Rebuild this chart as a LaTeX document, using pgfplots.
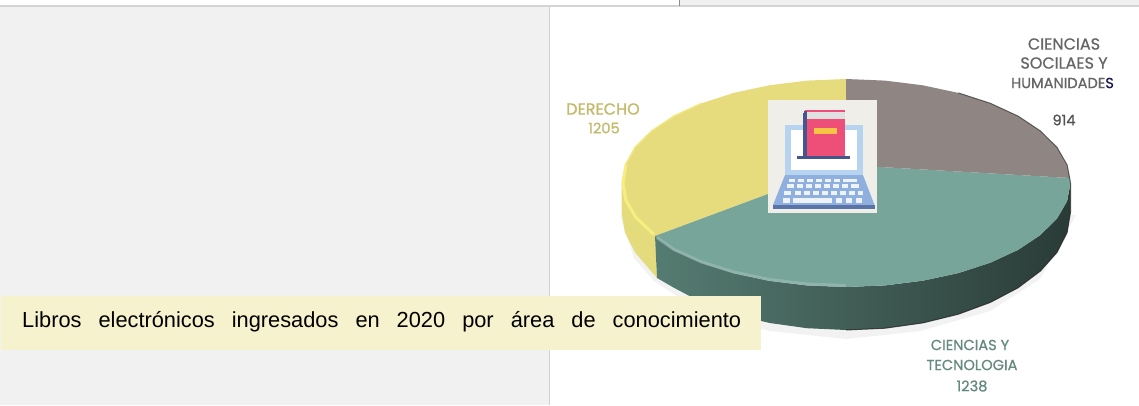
\documentclass[border=0pt]{standalone}
\usepackage{fontspec}
\setmainfont{Liberation Sans}
\newfontfamily\lab[FakeBold=0.8]{Poppins}
\usepackage{pgfplots}
\pgfplotsset{compat=1.18}
\definecolor{pyel}{HTML}{E6DC7D}
\definecolor{pyelrim}{HTML}{F6EE80}
\definecolor{pyelside}{HTML}{E4DB7C}
\definecolor{pgry}{HTML}{8F8583}
\definecolor{pgrn}{HTML}{78A59A}
\definecolor{sideA}{HTML}{557C72}
\definecolor{sideB}{HTML}{3F5A53}
\definecolor{sideC}{HTML}{2A3B37}
\definecolor{boxc}{HTML}{F6F2CD}
\definecolor{icbg}{HTML}{EFEEE8}
\definecolor{icfr}{HTML}{B6D4F0}
\definecolor{icrd}{HTML}{ED4F78}
\definecolor{icnv}{HTML}{46558C}
\definecolor{icor}{HTML}{F8C445}
\definecolor{ickb}{HTML}{8FB0DE}
\definecolor{icbs}{HTML}{5B74A8}
\definecolor{ickey}{HTML}{EEF3FA}
\newcommand{\R}[5]{\addplot[fill=#5,draw=none] coordinates {(#1,#2) (#3,#2) (#3,#4) (#1,#4)} --cycle;}
\begin{document}
\begin{tikzpicture}
\begin{axis}[scale only axis,width=1139pt,height=405pt,xmin=0,xmax=1139,ymin=0,ymax=405,y dir=reverse,hide axis,clip=true]
% panels
\R{0}{0}{1139}{405}{white}
\R{0}{7}{549}{405}{black!5.5}
\R{549}{7}{550}{405}{black!18}
\R{680}{0}{1139}{5}{black!6}
\R{0}{5}{1139}{7}{black!17}
\R{678.5}{0}{680}{6}{black!45}
% halo
\addplot[fill=black!5,draw=none] coordinates {(620,215) (634,258) (654,281) (700,311) (770,331) (846,339) (920,331) (990,311) (1040,279) (1076,215)} --cycle;
% sides
\addplot[fill=pyelside,draw=none] coordinates {(621.5,183) (624.9,201.1) (635,218.6) (655,236) (657,278) (635,252.4) (624.9,232.5) (621.5,212)} --cycle;
\addplot[left color=sideA,middle color=sideB,right color=sideC,draw=none] coordinates {(655,236) (674,249.9) (701.7,262.7) (733.7,273.1) (769.2,280.7) (807,285.4) (846,287) (885,285.4) (922.8,280.7) (958.3,273.1) (990.3,262.7) (1018,249.9) (1040.4,235) (1057,218.6) (1067.1,201.1) (1070.5,183) (1070.5,212) (1067.1,232.5) (1057,252.4) (1040.4,271) (1018,287.8) (990.3,302.4) (958.3,314.2) (922.8,322.9) (885,328.2) (846,330) (807,328.2) (769.2,322.9) (733.7,314.2) (701.7,302.4) (674,287.8) (657,278)} --cycle;
% top wedges
\addplot[fill=pyel,draw=none] coordinates {(846,165) (846,79) (807,80.6) (769.2,85.3) (733.7,92.9) (701.7,103.3) (674,116.1) (651.6,131) (635,147.4) (624.9,164.9) (621.5,183) (624.9,201.1) (635,218.6) (655,236)} --cycle;
\addplot[fill=pgrn,draw=none] coordinates {(846,165) (655,236) (674,249.9) (701.7,262.7) (733.7,273.1) (769.2,280.7) (807,285.4) (846,287) (885,285.4) (922.8,280.7) (958.3,273.1) (990.3,262.7) (1018,249.9) (1040.4,235) (1057,218.6) (1067.1,201.1) (1070.5,183) (1070,178)} --cycle;
\addplot[fill=pgry,draw=none] coordinates {(846,165) (846,79) (885,80.6) (922.8,85.3) (958.3,92.9) (990.3,103.3) (1018,116.1) (1040.4,131) (1057,147.4) (1067.1,164.9) (1070,178)} --cycle;
% rims
\addplot[pyelrim,line width=3pt,line join=round] coordinates {(626,164.9) (623,183) (626,200.5) (636,217.5) (654,234.5)};
\addplot[pyelrim!60!pyel,line width=1.5pt,line join=round] coordinates {(701.7,103.3) (674,116.1) (651.6,131) (635,147.4) (625.5,164.9)};
\addplot[white!25!pgrn,line width=3pt,opacity=.7,line join=round] coordinates {(657,237.5) (674,249.5) (701.7,262) (733.7,272) (769.2,279.5) (807,284) (846,285.5)};
\addplot[black!75,line width=1pt,opacity=.8,line join=round] coordinates {(958.3,92.9) (990.3,103.3) (1018,116.1) (1040.4,131) (1057,147.4) (1067.1,164.9) (1070.5,183) (1070.5,212)};
\addplot[black!85,line width=1pt,opacity=.8,line join=round] coordinates {(1070.5,212) (1067.1,232.5) (1057,252.4) (1040.4,271) (1018,287.8) (990.3,302.4) (958.3,314.2) (922.8,322.9) (885,328.2) (846,330)};
% icon
\R{767.5}{100}{877}{213}{icbg}
\R{785}{125}{863}{175}{icfr}
\R{791}{130}{857}{170}{white}
\R{804}{110}{845}{120}{black!12}
\R{805}{110}{845}{112}{icrd}
\R{806.5}{119}{845}{157}{icrd}
\R{802.5}{113}{806.5}{157}{icnv}
\R{804}{110.5}{806.5}{114}{icnv}
\R{814}{128}{837}{134}{icor}
\R{797}{156}{850}{158.5}{icnv}
\addplot[fill=ickb,draw=none] coordinates {(785,175) (863,175) (874.5,205) (773,205)} --cycle;
\R{773}{205}{875}{208.5}{icbs}
\R{789}{178.5}{795}{182}{ickey}
\R{798}{178.5}{804}{182}{ickey}
\R{807}{178.5}{813}{182}{ickey}
\R{816}{178.5}{822}{182}{ickey}
\R{825}{178.5}{831}{182}{ickey}
\R{834}{178.5}{840}{182}{ickey}
\R{843}{178.5}{857}{182}{ickey}
\R{787}{184}{794}{187.5}{ickey}
\R{797}{184}{803}{187.5}{ickey}
\R{806}{184}{812}{187.5}{ickey}
\R{815}{184}{821}{187.5}{ickey}
\R{824}{184}{830}{187.5}{ickey}
\R{833}{184}{839}{187.5}{ickey}
\R{842}{184}{848}{187.5}{ickey}
\R{851}{184}{859}{187.5}{ickey}
\R{784}{190.5}{791}{194.5}{ickey}
\R{795}{190.5}{801}{194.5}{ickey}
\R{804}{190.5}{810}{194.5}{ickey}
\R{813}{190.5}{819}{194.5}{ickey}
\R{822}{190.5}{828}{194.5}{ickey}
\R{831}{190.5}{837}{194.5}{ickey}
\R{840}{190.5}{846}{194.5}{ickey}
\R{849}{190.5}{855}{194.5}{ickey}
\R{858}{190.5}{863}{194.5}{ickey}
\R{783}{197.5}{790}{202.5}{ickey}
\R{793}{197.5}{832}{202.5}{ickey}
\R{836}{197.5}{842}{202.5}{ickey}
\R{846}{197.5}{852}{202.5}{ickey}
\R{856}{197.5}{862}{202.5}{ickey}
% title box
\R{1}{296}{761}{350}{boxc}
\node[anchor=west,inner sep=0pt,font=\fontsize{21.8}{24}\selectfont,text=black] at (axis cs:22,321.5) {\hbox to 719pt{Libros\hfill electrónicos\hfill ingresados\hfill en\hfill 2020\hfill por\hfill área\hfill de\hfill conocimiento}};
% labels
\pgfkeys{/tikz/lb/.style={inner sep=0pt,font=\lab\fontsize{14.6}{17}\selectfont}}
\pgfkeys{/tikz/lc/.style={inner sep=0pt,font=\lab\fontsize{16}{17}\selectfont}}
\node[lc,text=black!60] at (axis cs:1064,44) {CIENCIAS};
\node[lc,text=black!60] at (axis cs:1064,63) {SOCILAES Y};
\node[lb,text=black!60] at (axis cs:1062.5,83) {HUMANIDADE\textcolor{black!75!blue!90!white}{S}};
\node[lb,text=black!68] at (axis cs:1064,120) {914};
\node[lc,text=pyelside!85!black] at (axis cs:603,109) {DERECHO};
\node[lb,text=pyelside!85!black] at (axis cs:604,128) {1205};
\node[lb,text=sideA!90] at (axis cs:970,345) {CIENCIAS Y};
\node[lb,text=sideA!90] at (axis cs:972,365) {TECNOLOGIA};
\node[lb,text=sideA!90] at (axis cs:972,386) {1238};
\end{axis}
\end{tikzpicture}
\end{document}
